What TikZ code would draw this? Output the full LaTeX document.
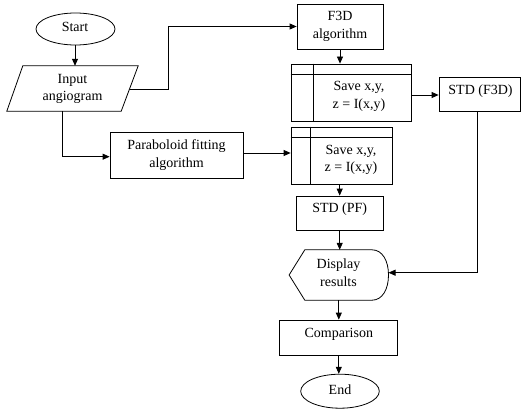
\documentclass[tikz,border=0pt]{standalone}
\usepackage{fontspec}
\setmainfont{Liberation Serif}
\usetikzlibrary{shapes.geometric,arrows.meta,calc}
\begin{document}
\begin{tikzpicture}[x=1pt,y=-1pt,
  every node/.style={font=\fontsize{14}{17.5}\selectfont, align=center, inner sep=0pt},
  box/.style={draw, rectangle, line width=0.8pt},
  oval/.style={draw, ellipse, line width=0.8pt},
  txt/.style={draw=none},
  line/.style={line width=0.8pt},
  arr/.style={line width=0.8pt, -{Triangle[length=7pt,width=6pt]}}]
\useasboundingbox[fill=white] (0,0) rectangle (521,409);

% nodes
\node[oval, minimum width=79pt, minimum height=32pt] (start) at (75.5,29) {};
\node[txt] at (75,26.5) {Start};

\node[txt, minimum width=131pt, minimum height=45pt] (input) at (72.5,88.5) {};
\node[txt] at (72.5,89) {Input\\angiogram};
\draw[line] ($(input.north west)+(16,0)$) -- (input.north east)
  -- ($(input.south east)+(-17,0)$) -- (input.south west) -- cycle;
\coordinate (inR) at (129.5,89);
\coordinate (inB) at (62.7,111);

\node[box, minimum width=133pt, minimum height=46pt] (para) at (176.5,155) {Paraboloid fitting\\algorithm};

\node[box, minimum width=86pt, minimum height=45pt] (f3d) at (340,26.5) {F3D\\algorithm};

\node[box, minimum width=120pt, minimum height=57pt] (save1) at (351,92.5) {};
\draw[line] ($(save1.north west)+(0,11)$) -- ($(save1.north east)+(0,11)$);
\draw[line] ($(save1.north west)+(23,0)$) -- ($(save1.south west)+(23,0)$);
\node[txt] (save1t) at (359,96.5) {Save x,y,\\z = I(x,y)};

\node[box, minimum width=101pt, minimum height=57pt] (save2) at (341.5,155.5) {};
\draw[line] ($(save2.north west)+(0,10.7)$) -- ($(save2.north east)+(0,10.7)$);
\draw[line] ($(save2.north west)+(20,0)$) -- ($(save2.south west)+(20,0)$);
\node[txt] (save2t) at (351,160) {Save x,y,\\z = I(x,y)};

\node[box, minimum width=81.5pt, minimum height=34pt] (std1) at (479.75,94) {};
\node[txt] at (480.5,91) {STD (F3D)};

\node[box, minimum width=87.3pt, minimum height=34pt] (stdpf) at (339.7,213) {};
\node[txt] at (339.7,209.5) {STD (PF)};

\node[txt, minimum width=99pt, minimum height=50pt] (disp) at (338.8,275) {};
\draw[line] (disp.west) -- ($(disp.north west)+(15.7,0)$) -- ($(disp.north east)+(-16.5,0)$)
  .. controls ($(disp.north east)+(-6,0)$) and ($(disp.east)+(0,-14)$) .. (disp.east)
  .. controls ($(disp.east)+(0,14)$) and ($(disp.south east)+(-6,0)$) .. ($(disp.south east)+(-16.5,0)$)
  -- ($(disp.south west)+(15.7,0)$) -- cycle;
\node[txt] at (338.5,272.5) {Display\\results};

\node[box, minimum width=118.3pt, minimum height=35pt] (comp) at (338.2,337.5) {};
\node[txt] at (338.8,334) {Comparison};

\node[oval, minimum width=78.6pt, minimum height=34pt] (end) at (340,391.2) {};
\node[txt] at (340,390) {End};

% connector helper points
\coordinate (sB) at ($(start.south)+(-0.5,0)$);
\coordinate (pE) at ($(para.east)+(0,-2)$);
\coordinate (s1E) at ($(save1.east)+(0,2.5)$);
\coordinate (sdB) at ($(std1.south)+(-2.5,0)$);
\coordinate (dE) at ($(disp.east)+(0,-2.3)$);
\coordinate (pW) at ($(para.west)+(0,1.7)$);
\coordinate (bend) at (168,89);

% connectors
\draw[arr] (sB) -- (sB |- input.north);
\draw[arr] (inR) -- (bend) |- (f3d.west);
\draw[arr] (inB) |- (pW);
\draw[arr] (pE) -- (pE -| save2.west);
\draw[arr] (f3d.south) -- (f3d.south |- save1.north);
\draw[arr] (s1E) -- (s1E -| std1.west);
\draw[arr] (sdB) |- (dE);
\draw[arr] (stdpf.north |- save2.south) -- (stdpf.north);
\draw[arr] (stdpf.south) -- (stdpf.south |- disp.north);
\draw[arr] (disp.south) -- (disp.south |- comp.north);
\draw[arr] (disp.south |- comp.south) -- (disp.south |- end.north);
\end{tikzpicture}
\end{document}
